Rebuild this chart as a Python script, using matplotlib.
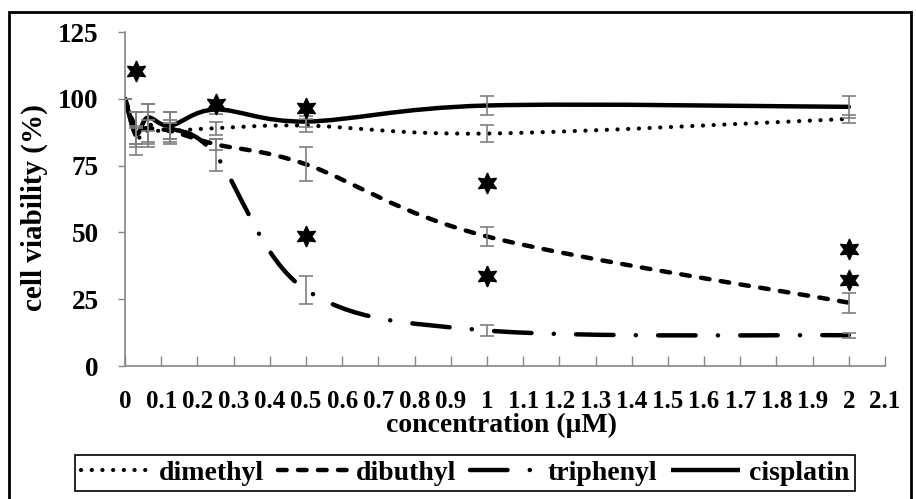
import matplotlib
matplotlib.use('Agg')
import matplotlib.pyplot as plt
import numpy as np
from matplotlib.path import Path
from matplotlib.patches import PathPatch, Rectangle
from matplotlib.lines import Line2D

plt.rcParams['font.family'] = ['Liberation Serif', 'DejaVu Serif']
plt.rcParams['font.weight'] = 'bold'
plt.rcParams['lines.scale_dashes'] = False

# data
conc = [0, 0.03125, 0.0625, 0.125, 0.25, 0.5, 1, 2]
dimethyl = [100, 86, 88, 88, 89, 90, 87, 92.5]
dimethyl_err = [0, 3, 4, 3, 2.5, 2.5, 3.2, 1.5]
dibuthyl = [100, 89, 89, 88, 83, 75.5, 48.5, 23.7]
dibuthyl_err = [0, 6, 6, 4, 2, 6.3, 3.5, 3.8]
triphenyl = [100, 86, 90, 89, 79, 28.5, 13.3, 11.5]
triphenyl_err = [0, 4, 8, 6, 6, 5.3, 2, 1]
cisplatin = [100, 87, 93, 90, 96, 91.5, 97.5, 97]
cisplatin_err = [0, 8, 5, 5, 1.5, 2, 3.5, 4]

star_x = [0.03125, 0.25, 0.5, 0.5, 1, 1, 2, 2]
star_y = [110.5, 98, 96.5, 48.5, 68.6, 33.7, 43.8, 32.2]

x_labels = ['0', '0.1', '0.2', '0.3', '0.4', '0.5', '0.6', '0.7', '0.8', '0.9',
            '1', '1.1', '1.2', '1.3', '1.4', '1.5', '1.6', '1.7', '1.8', '1.9',
            '2', '2.1']
y_ticks = [0, 25, 50, 75, 100, 125]


def smooth_path(x, y):
    # excel-like smoothed line: catmull-rom as cubic bezier
    pts = np.column_stack([x, y]).astype(float)
    n = len(pts)
    verts = [pts[0]]
    codes = [Path.MOVETO]
    for i in range(n - 1):
        p0 = pts[max(i - 1, 0)]
        p1 = pts[i]
        p2 = pts[i + 1]
        p3 = pts[min(i + 2, n - 1)]
        verts += [p1 + (p2 - p0) / 6, p2 - (p3 - p1) / 6, p2]
        codes += [Path.CURVE4] * 3
    return Path(verts, codes)


series = [
    ('dimethyl', dimethyl, dimethyl_err, 3.0, (0, (0.1, 7.6))),
    ('dibuthyl', dibuthyl, dibuthyl_err, 3.2, (0, (6.2, 8.2))),
    ('triphenyl', triphenyl, triphenyl_err, 3.2, (0, (27, 16, 0.1, 16))),
    ('cisplatin', cisplatin, cisplatin_err, 3.2, '-'),
]

fig = plt.figure(figsize=(9.16, 4.99), dpi=100)
ax = fig.add_axes([0.1365, 0.2665, 0.8297, 0.6693])

handles = []
for name, vals, err, lw, ls in series:
    patch = PathPatch(smooth_path(conc, vals), fill=False, edgecolor='black',
                      lw=lw, linestyle=ls, capstyle='round', zorder=2)
    ax.add_patch(patch)
    ax.errorbar(conc, vals, yerr=err, fmt='none', ecolor='#7f7f7f',
                elinewidth=1.2, capsize=5, capthick=1.2, zorder=3)
    handles.append(Line2D([], [], color='black', lw=lw, linestyle=ls,
                          dash_capstyle='round', solid_capstyle='butt', label=name))

ax.plot(star_x, star_y, linestyle='none', marker=(6, 1, 0), markersize=15,
        color='black', zorder=4)

ax.set_xlim(0, 2.1)
ax.set_ylim(0, 125)
ax.set_xticks([i / 10 for i in range(len(x_labels))])
ax.set_xticklabels(x_labels)
ax.set_yticks(y_ticks)
for s in ['top', 'right']:
    ax.spines[s].set_visible(False)
for s in ['left', 'bottom']:
    ax.spines[s].set_color('#868686')
    ax.spines[s].set_linewidth(1.2)
ax.tick_params(axis='x', direction='in', length=7, width=1, color='#868686',
               labelsize=18, pad=17)
ax.tick_params(axis='y', direction='out', length=5, width=1, color='#868686',
               labelsize=19.5, pad=14)

fig.text(502 / 916, 1 - 425 / 499, 'concentration (µM)', ha='center', va='center',
         fontsize=20, fontweight='bold')
fig.text(34 / 916, 1 - 208 / 499, 'cell viability (%)', ha='center', va='center',
         rotation=90, fontsize=21, fontweight='bold')

leg = fig.legend(handles=handles, loc='center', bbox_to_anchor=(465 / 916, 1 - 473 / 499),
                 ncol=4, fontsize=20, handlelength=2.5, handletextpad=0.3,
                 columnspacing=0.5, borderpad=0.2, fancybox=False, framealpha=1)
leg.get_frame().set_edgecolor('black')
leg.get_frame().set_linewidth(1.2)

fig.patches.append(Rectangle((9 / 916, -0.02), 902 / 916, 1.02 - 12 / 499,
                             transform=fig.transFigure, fill=False,
                             edgecolor='black', lw=2))

fig.savefig('out.png', dpi=100)
